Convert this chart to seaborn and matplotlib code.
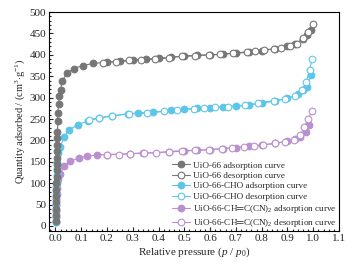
import numpy as np
import pandas as pd
import seaborn as sns
import matplotlib.pyplot as plt
from matplotlib.ticker import MultipleLocator

sns.set_theme(style='ticks')
plt.rcParams['font.family'] = ['Liberation Serif', 'DejaVu Serif']
plt.rcParams['mathtext.fontset'] = 'custom'
plt.rcParams['mathtext.rm'] = 'Liberation Serif'
plt.rcParams['mathtext.it'] = 'Liberation Serif:italic'

# UiO-66
uio_ads_p = [0.001, 0.0015, 0.002, 0.0025, 0.003, 0.0035, 0.004, 0.0045, 0.005, 0.0055, 0.006,
             0.0065, 0.007, 0.0075, 0.008, 0.009, 0.010, 0.012, 0.015, 0.020, 0.026, 0.045,
             0.071, 0.107, 0.146, 0.20, 0.25, 0.30, 0.35, 0.40, 0.45, 0.50, 0.55, 0.60, 0.65,
             0.70, 0.75, 0.80, 0.85, 0.90, 0.93, 0.96, 0.975, 0.99]
uio_ads_q = [12, 25, 40, 55, 70, 85, 100, 115, 130, 145, 160, 175, 190, 205, 220, 245, 265,
             285, 305, 318, 340, 357, 368, 375, 380, 383, 385, 387, 390, 392, 395, 397, 399,
             400, 402, 404, 406, 410, 414, 420, 426, 436, 446, 458]
uio_des_p = [1.0, 0.98, 0.96, 0.937, 0.91, 0.875, 0.846, 0.81, 0.775, 0.743, 0.69, 0.64,
             0.594, 0.543, 0.49, 0.44, 0.388, 0.33, 0.284, 0.233, 0.185]
uio_des_q = [472, 454, 440, 426, 420, 416, 414, 412, 409, 407, 404, 401, 400, 398, 397, 393,
             390, 389, 387, 384, 382]

# UiO-66-CHO
cho_ads_p = [0.001, 0.0015, 0.002, 0.0025, 0.003, 0.0035, 0.004, 0.005, 0.006, 0.007, 0.008,
             0.010, 0.019, 0.032, 0.054, 0.086, 0.125, 0.17, 0.22, 0.28, 0.32, 0.38, 0.45,
             0.50, 0.55, 0.60, 0.65, 0.70, 0.75, 0.80, 0.85, 0.90, 0.94, 0.96, 0.975, 0.99]
cho_ads_q = [10, 22, 35, 48, 62, 76, 90, 105, 120, 135, 150, 170, 184, 207, 225, 236, 246,
             252, 257, 262, 264, 266, 270, 273, 275, 276, 278, 280, 283, 287, 292, 298, 308,
             318, 325, 352]
cho_des_p = [0.995, 0.986, 0.973, 0.956, 0.93, 0.89, 0.846, 0.786, 0.735, 0.67, 0.62, 0.578,
             0.536, 0.47, 0.42, 0.355, 0.284, 0.22, 0.168, 0.129]
cho_des_q = [390, 364, 337, 318, 305, 297, 293, 287, 282, 279, 277, 276, 274, 272, 268, 264,
             262, 258, 253, 248]

# UiO-66-CH=C(CN)2
cn_ads_p = [0.001, 0.0015, 0.002, 0.003, 0.004, 0.005, 0.006, 0.008, 0.010, 0.019, 0.032,
            0.058, 0.09, 0.123, 0.16, 0.20, 0.29, 0.34, 0.44, 0.50, 0.55, 0.60, 0.65, 0.70,
            0.75, 0.80, 0.85, 0.90, 0.93, 0.95, 0.97, 0.985]
cn_ads_q = [10, 22, 35, 48, 62, 75, 88, 100, 110, 121, 139, 151, 159, 163, 166, 167, 169,
            170, 173, 175, 177, 178, 181, 183, 186, 189, 193, 198, 203, 209, 219, 235]
cn_des_p = [0.995, 0.98, 0.965, 0.95, 0.924, 0.89, 0.853, 0.807, 0.77, 0.73, 0.685, 0.646,
            0.594, 0.543, 0.49, 0.44, 0.39, 0.342, 0.29, 0.245, 0.2]
cn_des_q = [268, 250, 232, 212, 201, 197, 193, 190, 187, 185, 182, 181, 178, 177, 176, 174,
            171, 170.6, 169, 167, 167]

gray = '#767676'
cyan = '#5cc5ea'
purple = '#b98fd0'

series = [
    ('UiO-66 adsorption curve', uio_ads_p, uio_ads_q, gray, True),
    ('UiO-66 desorption curve', uio_des_p, uio_des_q, gray, False),
    ('UiO-66-CHO adsorption curve', cho_ads_p, cho_ads_q, cyan, True),
    ('UiO-66-CHO desorption curve', cho_des_p, cho_des_q, cyan, False),
    ('UiO-66-CH\u2550C(CN)$_2$ adsorption curve', cn_ads_p, cn_ads_q, purple, True),
    ('UiO-66-CH\u2550C(CN)$_2$ desorption curve', cn_des_p, cn_des_q, purple, False),
]

fig, ax = plt.subplots(figsize=(3.55, 2.69), dpi=100)
fig.subplots_adjust(left=0.138, right=0.955, top=0.955, bottom=0.141)

for i, (label, p, q, c, filled) in enumerate(series):
    df = pd.DataFrame({'p': p, 'q': q})
    sns.lineplot(data=df, x='p', y='q', ax=ax, sort=False, color=c, lw=0.8,
                 marker='o', markersize=4.8, markeredgewidth=0.8,
                 markerfacecolor=c if filled else 'white', markeredgecolor=c,
                 label=label, zorder=10 - i // 2 * 3)

ax.set_xlim(-0.025, 1.1)
ax.set_ylim(-12, 500)
ax.xaxis.set_major_locator(MultipleLocator(0.1))
ax.xaxis.set_minor_locator(MultipleLocator(0.02))
ax.yaxis.set_major_locator(MultipleLocator(50))
ax.yaxis.set_minor_locator(MultipleLocator(10))
ax.tick_params(which='both', direction='in', labelsize=8, width=0.8, pad=2)
ax.tick_params(which='major', length=3)
ax.tick_params(which='minor', length=1.5)
for s in ax.spines.values():
    s.set_linewidth(0.8)
    s.set_color('black')
ax.xaxis.set_major_formatter(plt.FuncFormatter(lambda v, _: f'{abs(v):.1f}'))

ax.set_xlabel(r'Relative pressure ($\it{p}$ / $\it{p}_0$)', fontsize=8, labelpad=2)
ax.set_ylabel(r'Quantity adsorbed / (cm$^3$$\cdot$g$^{-1}$)', fontsize=7.5, labelpad=2)

ax.legend(loc='lower right', bbox_to_anchor=(1.01, -0.015), frameon=False, fontsize=6.6,
          handlelength=2.0, handletextpad=0.3, labelspacing=0.22, borderaxespad=0.2)

fig.savefig('out.png', dpi=100)
